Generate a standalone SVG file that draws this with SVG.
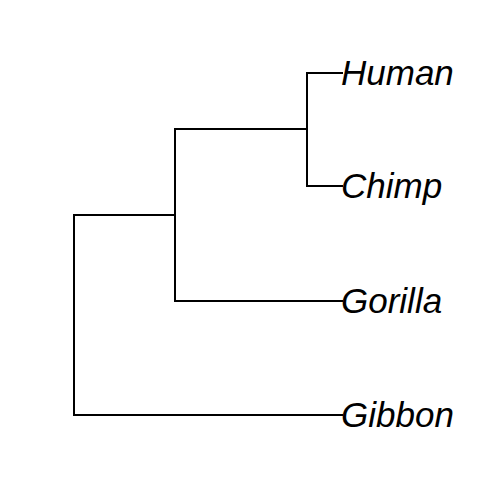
<svg xmlns="http://www.w3.org/2000/svg" width="504" height="504" viewBox="0 0 504 504">
<style>
.e{fill:none;stroke:#000;stroke-width:2;stroke-linejoin:miter;stroke-linecap:butt}
.t{font-family:"Liberation Sans",Arial,sans-serif;font-style:italic;font-size:35px;fill:#000}
</style>
<rect width="504" height="504" fill="#fff"/>
<g id="connectors">
<path class="e" d="M175 215H74V415H343"/>
<path class="e" d="M307 129H175V301H343"/>
<path class="e" d="M343 73H307V186H343"/>
</g>
<g id="human"><text class="t" x="341" y="85">Human</text></g>
<g id="chimp"><text class="t" x="341" y="198">Chimp</text></g>
<g id="gorilla"><text class="t" x="341" y="313">Gorilla</text></g>
<g id="gibbon"><text class="t" x="341" y="427">Gibbon</text></g>
</svg>
